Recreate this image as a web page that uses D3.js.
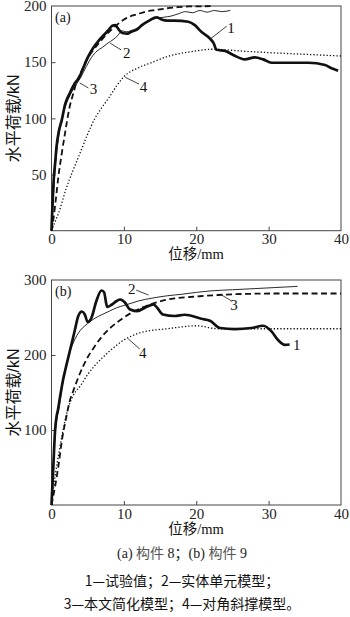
<!DOCTYPE html>
<html><head><meta charset="utf-8">
<script src="https://cdn.jsdelivr.net/npm/d3@7"></script>
<style>body{margin:0;background:#fff}svg{display:block}</style>
</head><body><svg id="c" width="350" height="617"></svg>
<script>
// ---- data ----
const xTicks = [0, 10, 20, 30, 40];
const yTicksA = [50, 100, 150, 200];
const yTicksB = [100, 200, 300];
const seriesNames = ["1", "2", "3", "4"];

// (a) 构件 8
const a_exp = [[0,0],[0.15,25],[0.3,45],[0.5,60],[0.7,75],[1,88],[1.4,98],[1.9,113],[2.5,122],[3.2,131],[3.8,136],[4.4,145],[5,154],[5.8,163],[6.5,169],[7.2,174],[7.8,178],[8.4,182.5],[8.8,183],[9.3,179],[9.8,176],[10.5,175.5],[11,177],[11.8,179],[12.5,183],[13.5,187],[14.5,190],[15.2,188],[16,187],[17,187],[18.9,186],[19.8,183],[20.7,177],[21.9,171],[22.4,167],[22.8,161],[24,160],[25.1,156.4],[26.7,152.5],[28.1,154.3],[29.25,152.5],[30.4,149.5],[35.5,149.5],[37.8,147.5],[38.7,144.5],[39.6,142.4]];
const a_solid = [[0,0],[0.2,25],[0.5,55],[0.9,80],[1.4,98],[2,112],[2.6,121],[3.3,129],[4,136],[4.8,146],[5.5,154],[6.3,160],[7,163],[7.8,167],[8.5,170],[9.2,174],[9.7,178],[10.3,177],[11,178],[12,181],[12.8,185],[13.5,187],[14.5,189],[15.5,190],[16.5,191],[17.5,193],[18.5,195],[19.5,194],[20.5,196],[21.5,194.5],[22.5,196],[23.5,195],[24.7,196]];
const a_simpl = [[0,0],[0.3,12],[0.6,28],[0.95,48],[1.4,68],[1.9,88],[2.5,110],[3,122],[3.5,133],[4,140],[4.85,152],[5.8,161],[6.7,168],[7.5,174],[8.3,179],[9,183],[9.9,187.5],[10.8,190.5],[11.8,192.6],[13,195],[14.5,196.5],[16,198],[17.5,199],[19,199.6],[22,199.8]];
const a_strut = [[0,0],[0.5,8],[1,16],[2,37],[3,54],[4,70],[5,86],[6,100],[7,110],[8,119],[9,129],[10,137],[12,145],[14,150],[16,155],[18,158],[20,160],[22,161.5],[24,161],[26,160],[30,158.5],[35,157],[40,155.5]];

// (b) 构件 9
const b_exp = [[0,0],[0.2,40],[0.5,100],[0.7,118],[0.9,127],[1.2,145],[1.6,167],[1.9,180],[2.4,200],[2.8,216],[3.2,232],[3.7,252],[4.2,258],[4.6,254],[5.0,244],[5.5,249],[6.2,272],[6.9,286],[7.25,284],[7.7,264],[8.3,267],[9.0,272],[9.5,274],[10.15,270],[10.8,261],[11.8,258.5],[13.1,264],[14.1,267.5],[14.6,263],[15.4,254],[17,252],[18.4,253.7],[20.7,248.3],[21.9,245.7],[23.3,236],[25.3,234.6],[27.6,236],[29.25,239],[30.4,231.5],[31.3,220],[32.25,213.5],[32.9,214]];
const b_solid = [[0,0],[0.5,95],[1,128],[1.5,160],[2,185],[2.5,203],[3,216],[3.5,226],[4,233],[5,242],[6,249],[7,254],[8,258.5],[9,263],[10,266],[11,269],[12,272],[14,276],[16,279],[18,281],[20,283.5],[22,285.5],[25,287],[28,288.5],[31,290],[34,291.5]];
const b_simpl = [[0,0],[0.5,25],[1,55],[1.5,90],[2,115],[2.5,138],[3,152],[3.5,165],[4,177],[5,197],[6,212],[7,225],[8,235],[9,243],[10,250],[11,256],[12,261],[13,265],[14,268.5],[15,271.5],[16,274],[17,275.5],[18,276.5],[20,278],[23,280],[27,281.5],[31,282],[40,282]];
const b_strut = [[0,0],[0.3,25],[0.6,45],[1,68],[1.5,95],[2,118],[2.5,135],[3,146],[4,159],[5,174],[6,186],[7,196],[8,205],[9,213],[10,220],[11,225],[12,229],[13,231.5],[14,233],[16,235],[18,237.5],[20,239],[21,238],[22,236],[23,235],[25,235],[30,235],[40,235]];

const captionLines = ["1—试验值；2—实体单元模型；", "3—本文简化模型；4—对角斜撑模型。"];

// ---- drawing ----
const svg = d3.select("#c");
const styles = [
  {w: 2.7, dash: null},
  {w: 0.9, dash: null},
  {w: 1.8, dash: "6,3.5"},
  {w: 1.3, dash: "1.3,2"}
];
const serif = "'Liberation Serif','Times New Roman',serif";
const cjk = "'Noto Sans CJK SC','Noto Sans',sans-serif";

function panel(cfg) {
  const x = d3.scaleLinear().domain([0, 40]).range([51.5, 341]);
  const y = d3.scaleLinear().domain([0, cfg.ymax]).range([cfg.bottom, cfg.top]);
  const g = svg.append("g");
  // frame
  g.append("rect").attr("x", x(0)).attr("y", y(cfg.ymax))
    .attr("width", x(40) - x(0)).attr("height", y(0) - y(cfg.ymax))
    .attr("fill", "none").attr("stroke", "#444").attr("stroke-width", 1);
  // x axis
  const xa = g.append("g").attr("transform", `translate(0,${y(0)})`)
    .call(d3.axisBottom(x).tickValues(xTicks).tickSizeInner(-4).tickSizeOuter(0).tickPadding(3).tickFormat(d3.format("d")));
  xa.select(".domain").remove();
  xa.selectAll("line").attr("stroke", "#444").filter(d => d === 0 || d === 40).remove();
  xa.selectAll("text").attr("font-family", serif).attr("font-size", 15).attr("fill", "#222");
  // y axis
  const ya = g.append("g").attr("transform", `translate(${x(0)},0)`)
    .call(d3.axisLeft(y).tickValues(cfg.yticks).tickSizeInner(-4).tickSizeOuter(0).tickPadding(5).tickFormat(d3.format("d")));
  ya.select(".domain").remove();
  ya.selectAll("line").attr("stroke", "#444").filter(d => d === cfg.ymax).remove();
  ya.selectAll("text").attr("font-family", serif).attr("font-size", 15).attr("fill", "#222");
  // lines
  const line = d3.line().x(d => x(d[0])).y(d => y(d[1])).curve(d3.curveMonotoneX);
  cfg.series.forEach((s, i) => {
    g.append("path").datum(s).attr("d", line).attr("fill", "none")
      .attr("stroke", "#111").attr("stroke-width", styles[i].w)
      .attr("stroke-dasharray", styles[i].dash).attr("stroke-linejoin", "round");
  });
  // series labels with leaders
  cfg.labels.forEach(l => {
    if (l.leader) {
      g.append("line").attr("x1", x(l.leader[0])).attr("y1", y(l.leader[1]))
        .attr("x2", x(l.leader[2])).attr("y2", y(l.leader[3]))
        .attr("stroke", "#111").attr("stroke-width", 0.8);
    }
    g.append("text").attr("x", x(l.pos[0])).attr("y", y(l.pos[1])).attr("dy", "0.35em")
      .attr("text-anchor", "middle").attr("font-family", serif).attr("font-size", 15)
      .attr("fill", "#111").text(l.name);
  });
  // panel tag
  g.append("text").attr("x", x(0) + 3.5).attr("y", y(cfg.ymax) + 16)
    .attr("font-family", serif).attr("font-size", 14).attr("fill", "#111").text(cfg.tag);
  // axis titles
  const xt = g.append("text").attr("x", 196).attr("y", y(0) + 28.5).attr("text-anchor", "middle")
    .attr("font-size", 14.5).attr("fill", "#111");
  xt.append("tspan").attr("font-family", cjk).text("位移");
  xt.append("tspan").attr("font-family", serif).text("/mm");
  const cy = (y(0) + y(cfg.ymax)) / 2;
  const yt = g.append("text").attr("transform", `translate(19,${cy}) rotate(-90)`)
    .attr("text-anchor", "middle").attr("font-size", 16).attr("fill", "#111");
  yt.append("tspan").attr("font-family", cjk).text("水平荷载");
  yt.append("tspan").attr("font-family", "'Liberation Sans',Arial,sans-serif").text("/kN");
}

panel({
  ymax: 200, top: 6, bottom: 230.7, yticks: yTicksA, tag: "(a)",
  series: [a_exp, a_solid, a_simpl, a_strut],
  labels: [
    {name: seriesNames[0], pos: [24.8, 181], leader: [22, 171, 24.2, 182]},
    {name: seriesNames[1], pos: [10.4, 158], leader: [8.1, 167, 9.6, 161]},
    {name: seriesNames[2], pos: [5.8, 126], leader: [3.9, 131.5, 5.1, 127]},
    {name: seriesNames[3], pos: [12.7, 128], leader: [10.2, 136.5, 12.1, 130.5]}
  ]
});

panel({
  ymax: 300, top: 280, bottom: 505, yticks: yTicksB, tag: "(b)",
  series: [b_exp, b_solid, b_simpl, b_strut],
  labels: [
    {name: seriesNames[0], pos: [33.9, 214], leader: null},
    {name: seriesNames[1], pos: [11.1, 289], leader: [11.7, 286.5, 13.4, 280]},
    {name: seriesNames[2], pos: [25.2, 267], leader: [23.5, 280, 24.8, 272.5]},
    {name: seriesNames[3], pos: [12.6, 203], leader: [10.6, 221.5, 12.2, 208]}
  ]
});

// caption
const cap1 = svg.append("text").attr("x", 182).attr("y", 558).attr("text-anchor", "middle")
  .attr("font-size", 14).attr("fill", "#222");
cap1.append("tspan").attr("font-family", serif).text("(a) ");
cap1.append("tspan").attr("font-family", cjk).attr("fill", "#555").text("构件");
cap1.append("tspan").attr("font-family", serif).text(" 8");
cap1.append("tspan").attr("font-family", cjk).text("；");
cap1.append("tspan").attr("font-family", serif).text("(b) ");
cap1.append("tspan").attr("font-family", cjk).attr("fill", "#555").text("构件");
cap1.append("tspan").attr("font-family", serif).text(" 9");

captionLines.forEach((t, i) => {
  svg.append("text").attr("x", 182).attr("y", 586 + i * 22.5).attr("text-anchor", "middle")
    .attr("font-family", cjk).attr("font-size", 14).attr("fill", "#111").text(t);
});
</script>
</body></html>
